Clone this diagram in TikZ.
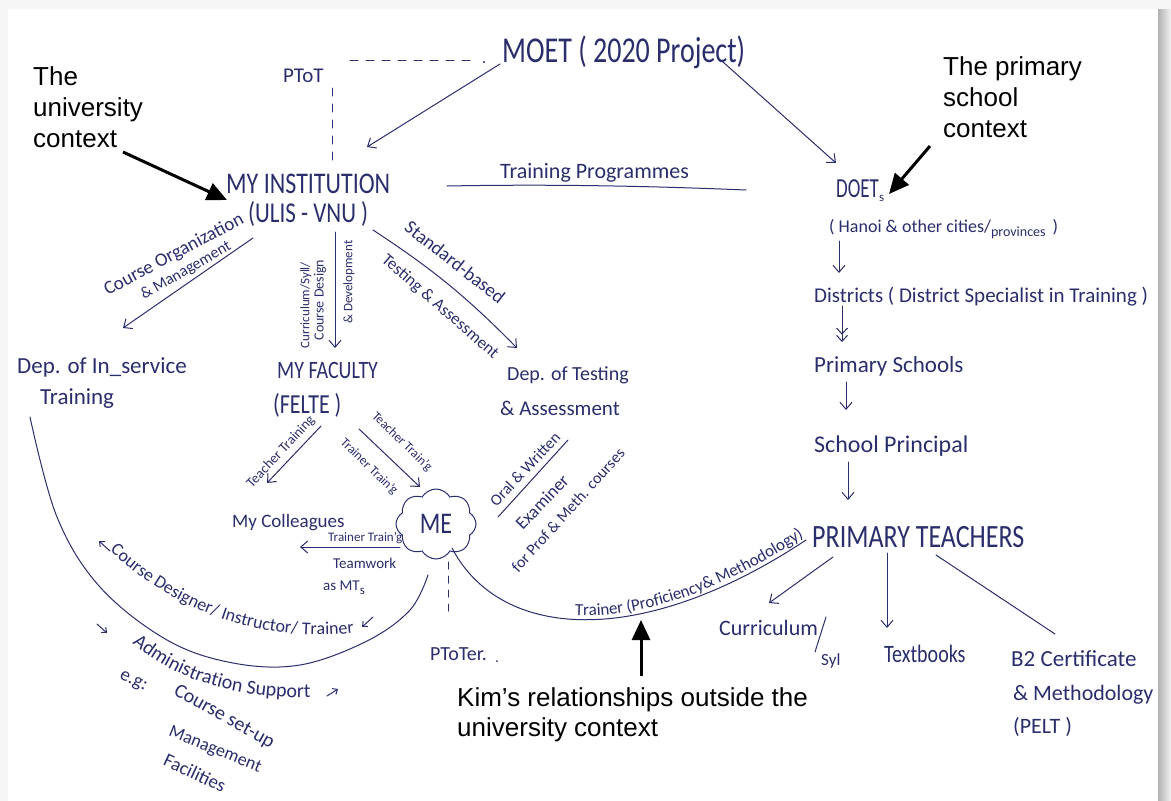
\documentclass[tikz,border=0pt]{standalone}
\usepackage{fontspec}
\usepackage{graphicx}
\usetikzlibrary{arrows.meta,shapes.symbols,decorations.text}
\setmainfont{Liberation Sans}
\newfontfamily\hwfont{Carlito}
\definecolor{ink}{RGB}{42,46,108}
\newcommand\tall[1]{\scalebox{1}[1.25]{#1}}
\newcommand\subs[1]{\raisebox{-4pt}{\fontsize{13}{13}\selectfont #1}}
\tikzset{
 hw/.style={font={\hwfont\fontsize{#1}{#1}\selectfont}, text=ink, inner sep=0pt},
 hwb/.style={hw=#1, anchor=base west},
 note/.style={font={\fontsize{26}{26}\selectfont}, text=black, inner sep=0pt, anchor=base west},
 inkline/.style={draw=ink, line width=1pt, line cap=round},
 inkarrow/.style={inkline, -{Straight Barb[length=7pt,width=12pt]}},
 bigarrow/.style={draw=black, line width=3pt, -{Triangle[length=20pt,width=18pt]}},
 dashink/.style={inkline, dash pattern=on 8pt off 8pt},
}
\begin{document}
\begin{tikzpicture}[x=1pt,y=-1pt]
\useasboundingbox (0,0) rectangle (1171,801);
\fill[gray!7] (0,0) rectangle (1171,801);
\fill[white] (8,9) rectangle (1158,801);
\shade[left color=gray!60, right color=gray!10] (1158,9) rectangle (1171,801);

% ---------- annotations ----------
\node[note] (u1) at (33,85) {The};
\node[note] (u2) at (33,116) {university};
\node[note] (u3) at (33,147) {context};
\node[note] (p1) at (943,75) {The primary};
\node[note] (p2) at (943,106) {school};
\node[note] (p3) at (943,137) {context};
\node[note] (k1) at (457,706) {Kim’s relationships outside the};
\node[note] (k2) at (457,736) {university context};

% ---------- top ----------
\node[hwb=21] (ptot) at (283,82) {PToT};
\node[hwb=28] (moet) at (502,62) {\scalebox{1}[1.3]{MOET ( 2020 Project)}};
\coordinate (dh1) at (350,60); \coordinate (dh2) at (477,60);
\draw[dashink] (dh1) -- (dh2);
\fill[ink] (484,62) circle (1.2pt);
\coordinate (dv1) at (332,88); \coordinate (dv2) at (332,165);
\draw[dashink] (dv1) -- (dv2);

\node[hwb=24] (inst) at (226,193) {\tall{MY INSTITUTION}};
\node[hwb=23] (ulis) at (248,222) {\tall{(ULIS - VNU )}};
\coordinate (m1) at (500,64); \coordinate (m1e) at (367,147);
\draw[inkarrow] (m1) -- (m1e);
\coordinate (m2) at (723,62); \coordinate (m2e) at (836,163);
\draw[inkarrow] (m2) -- (m2e);

\node[hwb=22] (tp) at (500,178) {Training Programmes};
\coordinate (tl1) at (447,186); \coordinate (tl2) at (746,190);
\draw[inkline] (tl1) .. controls (550,184) and (650,186) .. (tl2);

% ---------- right column ----------
\node[hwb=19] (doet) at (836,197) {\scalebox{1}[1.45]{DOET}\subs{s}};
\node[hwb=18] (hanoi) at (829,232) {( Hanoi \& other cities/\raisebox{-4pt}{\fontsize{14}{14}\selectfont provinces}\, )};
\node[hwb=21] (dist) at (814,302) {Districts ( District Specialist in Training )};
\node[hwb=23] (ps) at (814,372) {Primary Schools};
\node[hwb=24] (sp) at (814,452) {School Principal};
\node[hwb=26] (pt) at (812,547) {\tall{PRIMARY TEACHERS}};
\node[hwb=22] (curr) at (719,635) {Curriculum};
\node[hwb=17] (syl) at (821,665) {Syl};
\node[hwb=20] (tb) at (884,662) {\tall{Textbooks}};
\node[hwb=23] (b2a) at (1011,666) {B2 Certificate};
\node[hwb=22] (b2b) at (1013,700) {\& Methodology};
\node[hwb=22] (b2c) at (1013,733) {(PELT )};

\coordinate (r1) at (839,241); \coordinate (r1e) at (839,273);
\draw[inkarrow] (r1) -- (r1e);
\coordinate (r2) at (842,306); \coordinate (r2e) at (842,342);
\draw[inkline, -{Straight Barb[length=6pt,width=11pt] Straight Barb[length=6pt,width=11pt]}] (r2) -- (r2e);
\coordinate (r3) at (846,382); \coordinate (r3e) at (846,410);
\draw[inkarrow] (r3) -- (r3e);
\coordinate (r4) at (848,462); \coordinate (r4e) at (848,500);
\draw[inkarrow] (r4) -- (r4e);
\coordinate (r5) at (833,557); \coordinate (r5e) at (769,603);
\draw[inkarrow] (r5) -- (r5e);
\coordinate (r6) at (887,553); \coordinate (r6e) at (887,628);
\draw[inkarrow] (r6) -- (r6e);
\coordinate (r7) at (936,555); \coordinate (r7e) at (1055,634);
\draw[inkline] (r7) -- (r7e);
\coordinate (sl1) at (826,617); \coordinate (sl2) at (815,652);
\draw[inkline] (sl1) -- (sl2);

% ---------- left part ----------
\node[hwb=23] (dis) at (17,373) {Dep. of In\_service};
\node[hwb=23] (dis2) at (40,404) {Training};
\coordinate (c1) at (253,238); \coordinate (c1e) at (123,328);
\draw[inkarrow] (c1) -- (c1e);
\node[hw=19, rotate=28] (co) at (174,255) {Course Organization};
\node[hw=16, rotate=30] (cm) at (186,271) {\& Management};

\node[hwb=20] (fac) at (277,378) {\tall{MY FACULTY}};
\node[hwb=22] (felte) at (273,413) {\tall{(FELTE )}};
\coordinate (v1) at (335,232); \coordinate (v1e) at (335,348);
\draw[inkarrow] (v1) -- (v1e);
\node[hw=13, rotate=90] (cs1) at (306,305) {Curriculum/Syll/};
\node[hw=14, rotate=90] (cs2) at (320,300) {Course Design};
\node[hw=13, rotate=90] (cs3) at (349,282) {\& Development};

\coordinate (s1) at (373,230); \coordinate (s1e) at (517,348);
\draw[inkarrow] (s1) to[bend left=6] (s1e);
\node[hw=19, rotate=-38] (sb) at (455,262) {Standard-based};
\node[hw=17, rotate=-41] (ta) at (440,307) {Testing \& Assessment};
\node[hwb=20] (dt1) at (507,380) {Dep. of Testing};
\node[hwb=21] (dt2) at (500,415) {\& Assessment};

\node[cloud, cloud puffs=8, cloud puff arc=120, cloud ignores aspect, draw=ink, line width=1pt,
      minimum width=80pt, minimum height=70pt, hw=24] (me) at (436,524) {\tall{ME}};

\coordinate (f1) at (359,429); \coordinate (f1e) at (420,487);
\draw[inkarrow] (f1) -- (f1e);
\node[hw=13, rotate=-44] (tt1) at (402,442) {Teacher Train’g};
\node[hw=13, rotate=-44] (tt2) at (369,467) {Trainer Train’g};
\coordinate (f2) at (321,426); \coordinate (f2e) at (267,483);
\draw[inkarrow] (f2) -- (f2e);
\node[hw=14, rotate=47] (tt3) at (281,452) {Teacher Training};

\node[hwb=19] (col) at (232,527) {My Colleagues};
\coordinate (e1) at (400,547); \coordinate (e1e) at (300,547);
\draw[inkarrow] (e1) -- (e1e);
\node[hwb=13] (tt4) at (328,541) {Trainer Train’g};
\node[hwb=15] (tw) at (333,568) {Teamwork};
\node[hwb=15] (mts) at (323,590) {as MT\subs{s}};

\coordinate (o1) at (498,517); \coordinate (o1e) at (568,440);
\draw[inkline] (o1) -- (o1e);
\node[hw=16, rotate=47] (ow) at (525,469) {Oral \& Written};
\node[hw=18, rotate=46] (ex) at (542,502) {Examiner};
\node[hw=16, rotate=48] (fp) at (568,510) {for Prof \& Meth. courses};

\coordinate (d1) at (448,562); \coordinate (d1e) at (448,613);
\draw[dashink, dash pattern=on 7pt off 7pt] (d1) -- (d1e);
\node[hwb=20] (ptoter) at (430,660) {PToTer.};
\fill[ink] (497,661) circle (1pt);

% big arc Dep. of In-service -- ME
\coordinate (arcA) at (30,417); \coordinate (arcB) at (428,575);
\draw[inkline] plot[smooth, tension=0.6] coordinates {(arcA) (57,517) (100,587) (167,640) (233,663) (300,665) (367,641) (410,610) (arcB)};
\path[decorate, decoration={text along path, text align=center, text color=ink,
   text={|\hwfont\fontsize{18}{18}\selectfont|Course Designer/ Instructor/ Trainer}}]
   (104,545) .. controls (170,610) and (260,645) .. (362,632);
\path[decorate, decoration={text along path, text align=center, text color=ink,
   text={|\hwfont\fontsize{20}{20}\selectfont|Administration Support}}]
   (118,630) .. controls (165,677) and (230,702) .. (330,697);
\draw[inkline, -{Straight Barb[length=4pt,width=7pt]}] (110,551) -- (99,541);
\draw[inkline, -{Straight Barb[length=4pt,width=7pt]}] (373,617) -- (362,627);
\draw[inkline, -{Straight Barb[length=4pt,width=7pt]}] (97,624) -- (107,633);
\draw[inkline, -{Straight Barb[length=4pt,width=7pt]}] (327,696) -- (338,689);
\node[hw=19, rotate=-25] (eg) at (133,682) {e.g:};
\node[hw=20, rotate=-29] (cset) at (224,717) {Course set-up};
\node[hw=18, rotate=-22] (mgmt) at (215,750) {Management};
\node[hw=19, rotate=-25] (facil) at (195,773) {Facilities};

% curve ME -- PRIMARY TEACHERS
\coordinate (tA) at (452,548); \coordinate (tB) at (806,540);
\draw[inkline, postaction={decorate, decoration={text along path, text align=right, raise=4pt, text color=ink,
   text={|\hwfont\fontsize{17}{17}\selectfont|Trainer (Proficiency{\&} Methodology)}}}]
   (tA) .. controls (500,640) and (640,650) .. (tB);

% annotation arrows
\coordinate (a1) at (123,152); \coordinate (a1e) at (227,200);
\draw[bigarrow] (a1) -- (a1e);
\coordinate (a2) at (930,146); \coordinate (a2e) at (889,194);
\draw[bigarrow] (a2) -- (a2e);
\coordinate (a3) at (641,676); \coordinate (a3e) at (641,620);
\draw[bigarrow] (a3) -- (a3e);
\end{tikzpicture}
\end{document}
